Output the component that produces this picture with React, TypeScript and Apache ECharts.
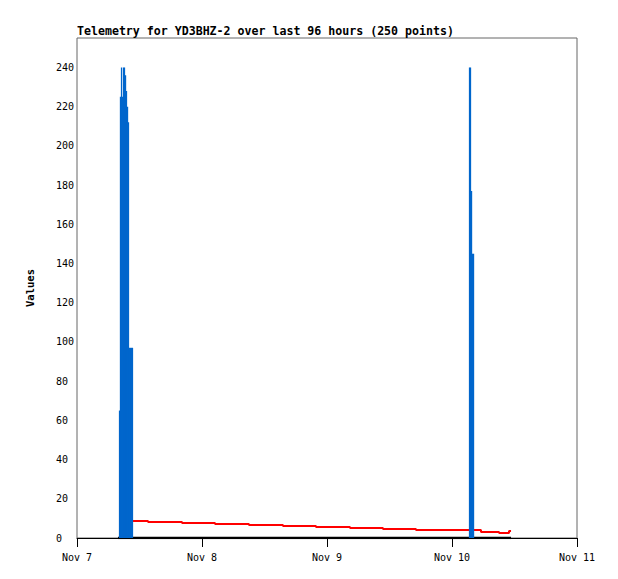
import React, { useEffect, useRef } from "react";
import * as echarts from "echarts";

const titleText = "Telemetry for YD3BHZ-2 over last 96 hours (250 points)";
const yAxisName = "Values";
const monthNames = ["Jan", "Feb", "Mar", "Apr", "May", "Jun", "Jul", "Aug", "Sep", "Oct", "Nov", "Dec"];

const xStart = "2024-11-07T00:00:00Z";
const xEnd = "2024-11-11T00:00:00Z";
const yMax = 255;
const yInterval = 20;

// Blue telemetry channel (impulse-like bars)
const blueTimes = [
  "2024-11-07T08:10:00Z", "2024-11-07T08:21:00Z", "2024-11-07T08:33:00Z", "2024-11-07T08:44:00Z",
  "2024-11-07T08:56:00Z", "2024-11-07T09:07:00Z", "2024-11-07T09:19:00Z", "2024-11-07T09:30:00Z",
  "2024-11-07T09:42:00Z", "2024-11-07T09:53:00Z", "2024-11-07T10:05:00Z", "2024-11-07T10:16:00Z",
  "2024-11-07T10:28:00Z", "2024-11-07T10:39:00Z",
  "2024-11-10T03:22:00Z", "2024-11-10T03:33:00Z", "2024-11-10T03:45:00Z", "2024-11-10T03:56:00Z",
  "2024-11-10T04:08:00Z",
];
const blueValues = [65, 225, 240, 225, 240, 240, 236, 228, 220, 212, 97, 97, 97, 97, 240, 240, 177, 145, 145];

// Red telemetry channel (slowly decreasing)
const redTimes = [
  "2024-11-07T09:13:00Z", "2024-11-07T13:38:00Z", "2024-11-07T20:10:00Z", "2024-11-08T02:30:00Z",
  "2024-11-08T09:01:00Z", "2024-11-08T15:33:00Z", "2024-11-08T21:53:00Z", "2024-11-09T04:25:00Z",
  "2024-11-09T10:45:00Z", "2024-11-09T17:05:00Z", "2024-11-10T05:34:00Z", "2024-11-10T09:02:00Z",
  "2024-11-10T10:57:00Z", "2024-11-10T11:20:00Z",
];
const redValues = [8.7, 8.2, 7.7, 7.2, 6.6, 6.1, 5.6, 5.1, 4.6, 4.1, 3.1, 2.6, 3.6, 3.6];

// Black telemetry channel (zero)
const blackTimes = ["2024-11-07T07:52:00Z", "2024-11-10T11:20:00Z"];
const blackValues = [0, 0];

const toPairs = (times: string[], vals: number[]) => times.map((t, i) => [Date.parse(t), vals[i]]);

export default function App() {
  const ref = useRef<HTMLDivElement>(null);
  useEffect(() => {
    if (!ref.current) return;
    const chart = echarts.init(ref.current, undefined, { renderer: "svg" });
    const mono = "DejaVu Sans Mono";
    chart.setOption({
      animation: false,
      backgroundColor: "#ffffff",
      title: {
        text: titleText,
        left: 77,
        top: 25,
        padding: 0,
        textStyle: { fontFamily: mono, fontSize: 11.6, fontWeight: "bold", color: "#000" },
      },
      grid: {
        left: 77,
        top: 38,
        width: 500,
        height: 500,
        show: true,
        borderColor: "#666",
        borderWidth: 1,
        backgroundColor: "transparent",
      },
      xAxis: {
        type: "value",
        min: Date.parse(xStart),
        max: Date.parse(xEnd),
        interval: 86400000,
        splitLine: { show: false },
        axisLine: { show: true, lineStyle: { color: "#000", width: 1 } },
        axisTick: { show: true, length: 9, lineStyle: { color: "#000" } },
        axisLabel: {
          margin: 14,
          fontFamily: mono,
          fontSize: 10,
          color: "#000",
          formatter: (v: number) => {
            const d = new Date(v);
            return monthNames[d.getUTCMonth()] + " " + d.getUTCDate();
          },
        },
      },
      yAxis: {
        type: "value",
        min: 0,
        max: yMax,
        interval: yInterval,
        name: yAxisName,
        nameLocation: "middle",
        nameGap: 42,
        nameTextStyle: { fontFamily: mono, fontSize: 10.5, fontWeight: "bold", color: "#000" },
        splitLine: { show: false },
        axisLine: { show: false },
        axisTick: { show: false },
        axisLabel: {
          showMaxLabel: false,
          align: "left",
          margin: 21,
          fontFamily: mono,
          fontSize: 10,
          color: "#000",
        },
      },
      series: [
        {
          type: "line",
          data: toPairs(blackTimes, blackValues),
          showSymbol: false,
          lineStyle: { color: "#000", width: 2.5 },
          z: 1,
        },
        {
          type: "line",
          step: "end",
          data: toPairs(redTimes, redValues),
          showSymbol: false,
          lineStyle: { color: "#ff0000", width: 2 },
          z: 2,
        },
        {
          type: "bar",
          data: toPairs(blueTimes, blueValues),
          barWidth: 1.3,
          itemStyle: { color: "#0066cc" },
          z: 3,
        },
      ],
    });
    return () => chart.dispose();
  }, []);
  return (
    <div
      ref={ref}
      style={{ position: "fixed", left: 0, top: 0, width: 618, height: 579, background: "#fff" }}
    />
  );
}
